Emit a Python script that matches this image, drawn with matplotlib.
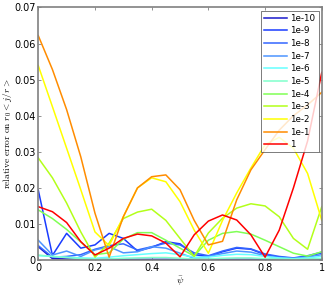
import matplotlib
matplotlib.use("Agg")
import matplotlib.pyplot as plt

psi = [0.00, 0.05, 0.10, 0.15, 0.20, 0.25, 0.30, 0.35, 0.40, 0.45, 0.50,
       0.55, 0.60, 0.65, 0.70, 0.75, 0.80, 0.85, 0.90, 0.95, 1.00]

labels = ["1e-10", "1e-9", "1e-8", "1e-7", "1e-6", "1e-5",
          "1e-4", "1e-3", "1e-2", "1e-1", "1"]

err_1e10 = [0.0037, 0.0004, 0.0003, 0.0003, 0.0002, 0.0002, 0.0002, 0.0002, 0.0002, 0.0002, 0.0002,
            0.0002, 0.0002, 0.0002, 0.0002, 0.0002, 0.0002, 0.0002, 0.0002, 0.0002, 0.0002]
err_1e9 = [0.0194, 0.0013, 0.0074, 0.0033, 0.0042, 0.0074, 0.0060, 0.0025, 0.0035, 0.0051, 0.0045,
           0.0015, 0.0010, 0.0023, 0.0033, 0.0030, 0.0015, 0.0008, 0.0005, 0.0010, 0.0020]
err_1e8 = [0.0040, 0.0008, 0.0010, 0.0015, 0.0030, 0.0040, 0.0045, 0.0028, 0.0037, 0.0047, 0.0042,
           0.0020, 0.0012, 0.0025, 0.0035, 0.0031, 0.0017, 0.0010, 0.0006, 0.0012, 0.0022]
err_1e7 = [0.0055, 0.0014, 0.0025, 0.0010, 0.0028, 0.0037, 0.0020, 0.0023, 0.0037, 0.0033, 0.0019,
           0.0005, 0.0010, 0.0018, 0.0025, 0.0022, 0.0012, 0.0006, 0.0004, 0.0008, 0.0015]
err_1e6 = [0.0012, 0.0010, 0.0008, 0.0006, 0.0005, 0.0008, 0.0012, 0.0015, 0.0018, 0.0020, 0.0015,
           0.0008, 0.0008, 0.0013, 0.0016, 0.0015, 0.0010, 0.0006, 0.0004, 0.0006, 0.0010]
err_1e5 = [0.0014, 0.0010, 0.0007, 0.0004, 0.0002, 0.0003, 0.0005, 0.0006, 0.0007, 0.0007, 0.0005,
           0.0003, 0.0003, 0.0005, 0.0006, 0.0006, 0.0004, 0.0003, 0.0002, 0.0003, 0.0004]
err_1e4 = [0.0139, 0.0115, 0.0085, 0.0050, 0.0015, 0.0020, 0.0058, 0.0076, 0.0076, 0.0055, 0.0033,
           0.0011, 0.0055, 0.0074, 0.0079, 0.0072, 0.0055, 0.0037, 0.0019, 0.0011, 0.0023]
err_1e3 = [0.0283, 0.0228, 0.0158, 0.0078, 0.0008, 0.0047, 0.0115, 0.0133, 0.0141, 0.0110, 0.0060,
           0.0010, 0.0075, 0.0116, 0.0144, 0.0156, 0.0150, 0.0120, 0.0060, 0.0030, 0.0148]
err_1e2 = [0.0539, 0.0425, 0.0310, 0.0195, 0.0078, 0.0040, 0.0120, 0.0200, 0.0228, 0.0217, 0.0162,
           0.0083, 0.0019, 0.0110, 0.0186, 0.0255, 0.0320, 0.0340, 0.0310, 0.0240, 0.0110]
err_1e1 = [0.0622, 0.0528, 0.0417, 0.0286, 0.0130, 0.0008, 0.0120, 0.0200, 0.0231, 0.0236, 0.0195,
           0.0110, 0.0042, 0.0052, 0.0167, 0.0250, 0.0306, 0.0360, 0.0400, 0.0430, 0.0465]
err_1 = [0.0148, 0.0134, 0.0104, 0.0051, 0.0014, 0.0033, 0.0060, 0.0072, 0.0067, 0.0047, 0.0009,
         0.0070, 0.0108, 0.0125, 0.0111, 0.0070, 0.0008, 0.0083, 0.0200, 0.0330, 0.0520]

series = [err_1e10, err_1e9, err_1e8, err_1e7, err_1e6, err_1e5,
          err_1e4, err_1e3, err_1e2, err_1e1, err_1]
colors = ["#1a1acc", "#1a3cff", "#3366ff", "#4d94ff", "#66ffff", "#80ffcc",
          "#80ff55", "#b3ff1a", "#ffff00", "#ff8c00", "#ff0000"]

plt.rcParams["mathtext.fontset"] = "cm"

fig = plt.figure(figsize=(3.27, 2.88), dpi=100)
ax = fig.add_axes([0.117, 0.097, 0.867, 0.877])

for vals, c, lab in zip(series, colors, labels):
    ax.plot(psi, vals, color=c, lw=1.1, label=lab)

ax.set_xlim(0, 1)
ax.set_ylim(0, 0.07)
ax.set_xticks([0, 0.2, 0.4, 0.6, 0.8, 1])
ax.set_xticklabels(["0", "0.2", "0.4", "0.6", "0.8", "1"])
ax.set_yticks([0, 0.01, 0.02, 0.03, 0.04, 0.05, 0.06, 0.07])
ax.set_yticklabels(["0", "0.01", "0.02", "0.03", "0.04", "0.05", "0.06", "0.07"])
ax.tick_params(direction="in", length=2.5, width=0.6, color="#808080",
               labelsize=7, top=True, right=True, pad=2)
for s in ax.spines.values():
    s.set_color("#808080")
    s.set_linewidth(1.2)

ax.set_xlabel(r"$\bar{\psi}$", fontsize=7, labelpad=1)
ax.set_ylabel(r"$\mathrm{relative\ error\ on\ }r_0<j/r>$", fontsize=6.8)
ax.yaxis.set_label_coords(-0.086, 0.5)

leg = ax.legend(loc="upper right", fontsize=6.3, frameon=True, fancybox=False,
                handlelength=2.6, handletextpad=0.4, labelspacing=0.42,
                borderpad=0.35, borderaxespad=0.35)
leg.get_frame().set_edgecolor("#404040")
leg.get_frame().set_linewidth(0.6)

fig.savefig("out.png", dpi=100)
